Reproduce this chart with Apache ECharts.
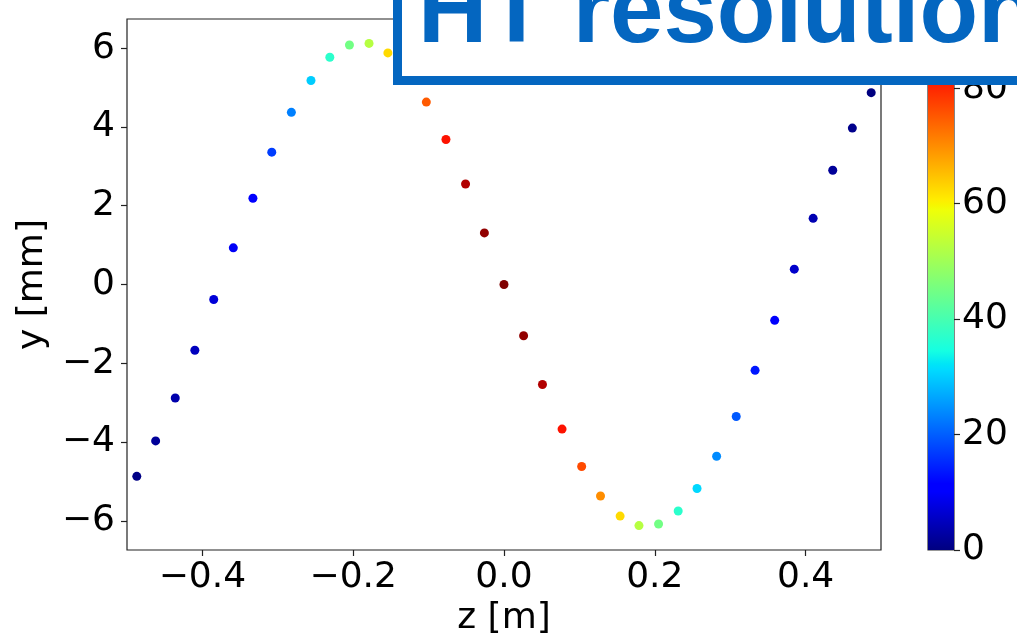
<!DOCTYPE html>
<html>
<head>
<meta charset="utf-8">
<script src="https://cdn.jsdelivr.net/npm/echarts@6/dist/echarts.min.js"></script>
<style>
html,body{margin:0;padding:0;background:#fff;}
#chart{width:1017px;height:640px;}
</style>
</head>
<body>
<div id="chart"></div>
<script>
// ---- data ----
const zValues = [-0.487,-0.462,-0.436,-0.410,-0.385,-0.359,-0.333,-0.308,-0.282,-0.256,-0.231,-0.205,-0.179,-0.154,-0.128,-0.103,-0.077,-0.051,-0.026,0.000,0.026,0.051,0.077,0.103,0.128,0.154,0.179,0.205,0.231,0.256,0.282,0.308,0.333,0.359,0.385,0.410,0.436,0.462,0.487];
const yValues = [-4.87,-3.97,-2.88,-1.67,-0.38,0.93,2.19,3.36,4.37,5.18,5.77,6.08,6.12,5.88,5.37,4.63,3.68,2.55,1.31,0.00,-1.30,-2.54,-3.67,-4.62,-5.37,-5.88,-6.12,-6.08,-5.75,-5.18,-4.36,-3.35,-2.18,-0.91,0.39,1.68,2.90,3.97,4.87];
const colorValues = [0.5,2,3.5,5,7,9.5,11.5,17,23,30,37,45,52.5,62.5,70,75,82,88,90.5,92,90.5,88,82,76.5,70,62.5,52.5,45,37,31,24,19.5,13.5,10,6,4,2,1,0];
const xTicks = [-0.4,-0.2,0.0,0.2,0.4];
const yTicks = [-6,-4,-2,0,2,4,6];
const cbarTicks = [0,20,40,60,80];
const cbarMax = 92;
const titleText = 'HT resolution';

// ---- jet colormap (matplotlib definition) ----
const JET = {
  r: [[0,0],[0.35,0],[0.66,1],[0.89,1],[1,0.5]],
  g: [[0,0],[0.125,0],[0.375,1],[0.64,1],[0.91,0],[1,0]],
  b: [[0,0.5],[0.11,1],[0.34,1],[0.65,0],[1,0]]
};
function seg(s, t){
  t = Math.max(0, Math.min(1, t));
  for (let i = 1; i < s.length; i++) {
    if (t <= s[i][0]) {
      const f = (t - s[i-1][0]) / (s[i][0] - s[i-1][0]);
      return s[i-1][1] + f * (s[i][1] - s[i-1][1]);
    }
  }
  return s[s.length-1][1];
}
function jet(t){
  const r = Math.round(seg(JET.r,t)*255), g = Math.round(seg(JET.g,t)*255), b = Math.round(seg(JET.b,t)*255);
  return 'rgb(' + r + ',' + g + ',' + b + ')';
}
const jetBreaks = [0,0.11,0.125,0.34,0.35,0.375,0.64,0.65,0.66,0.89,0.91,1];

const fmt = v => (Math.abs(v) < 1e-9 ? 0 : v).toFixed(1).replace('-', '\u2212');
const fmtInt = v => String(v).replace('-', '\u2212');

const FONT = 'DejaVu Sans';
const scatterData = zValues.map((z, i) => [z, yValues[i], colorValues[i]]);

const chart = echarts.init(document.getElementById('chart'), null, {renderer: 'canvas'});
chart.setOption({
  animation: false,
  backgroundColor: '#fff',
  grid: [
    {left: 127, top: 19, width: 754, height: 531, show: true, borderColor: '#222', borderWidth: 1.2, backgroundColor: 'transparent', containLabel: false, outerBoundsMode: 'none'},
    {left: 928, top: 19, width: 26, height: 531, show: true, borderColor: '#333', borderWidth: 1.2, backgroundColor: 'transparent', containLabel: false, outerBoundsMode: 'none'}
  ],
  xAxis: [
    {
      gridIndex: 0, type: 'value', min: -0.5, max: 0.5,
      axisLine: {show: false, onZero: false},
      splitLine: {show: false},
      axisTick: {show: true, inside: false, length: 6, lineStyle: {color: '#222', width: 1.2}, customValues: xTicks},
      axisLabel: {show: true, customValues: xTicks, formatter: fmt, fontSize: 36, fontFamily: FONT, color: '#000', margin: 10},
      name: 'z [m]', nameLocation: 'middle', nameGap: 47,
      nameTextStyle: {fontSize: 36, fontFamily: FONT, color: '#000'}
    },
    {gridIndex: 1, type: 'category', data: ['cb'], show: false, axisLine: {onZero: false}}
  ],
  yAxis: [
    {
      gridIndex: 0, type: 'value', min: -6.74, max: 6.74,
      axisLine: {show: false, onZero: false},
      splitLine: {show: false},
      axisTick: {show: true, inside: false, length: 6, lineStyle: {color: '#222', width: 1.2}, customValues: yTicks},
      axisLabel: {show: true, customValues: yTicks, formatter: fmtInt, fontSize: 36, fontFamily: FONT, color: '#000', margin: 12},
      name: 'y [mm]', nameLocation: 'middle', nameGap: 70, nameRotate: 90,
      nameTextStyle: {fontSize: 36, fontFamily: FONT, color: '#000'}
    },
    {
      gridIndex: 1, type: 'value', min: 0, max: cbarMax, position: 'right',
      axisLine: {show: false, onZero: false},
      splitLine: {show: false},
      axisTick: {show: true, inside: false, length: 6, lineStyle: {color: '#222', width: 1.2}, customValues: cbarTicks},
      axisLabel: {show: true, customValues: cbarTicks, formatter: fmtInt, fontSize: 36, fontFamily: FONT, color: '#000', margin: 8}
    }
  ],
  series: [
    {
      type: 'scatter', xAxisIndex: 0, yAxisIndex: 0,
      data: scatterData,
      symbol: 'circle', symbolSize: 9,
      itemStyle: {color: p => jet(p.value[2] / cbarMax), opacity: 1},
      z: 3
    },
    {
      type: 'bar', xAxisIndex: 1, yAxisIndex: 1,
      data: [cbarMax], barWidth: '100%',
      itemStyle: {
        color: new echarts.graphic.LinearGradient(0, 1, 0, 0, jetBreaks.map(t => ({offset: t, color: jet(t)})))
      },
      silent: true, z: 1
    }
  ],
  graphic: [
    {
      type: 'rect', z: 100, silent: true,
      shape: {x: 397.5, y: -30, width: 700, height: 110.5},
      style: {fill: '#fff', stroke: '#0466C0', lineWidth: 9}
    },
    {
      type: 'text', z: 101, silent: true,
      x: 418, y: 16,
      style: {text: titleText, fill: '#0466C0', font: 'bold 96px "Liberation Sans", Arial, sans-serif', verticalAlign: 'middle', align: 'left'}
    }
  ]
});
</script>
</body>
</html>
